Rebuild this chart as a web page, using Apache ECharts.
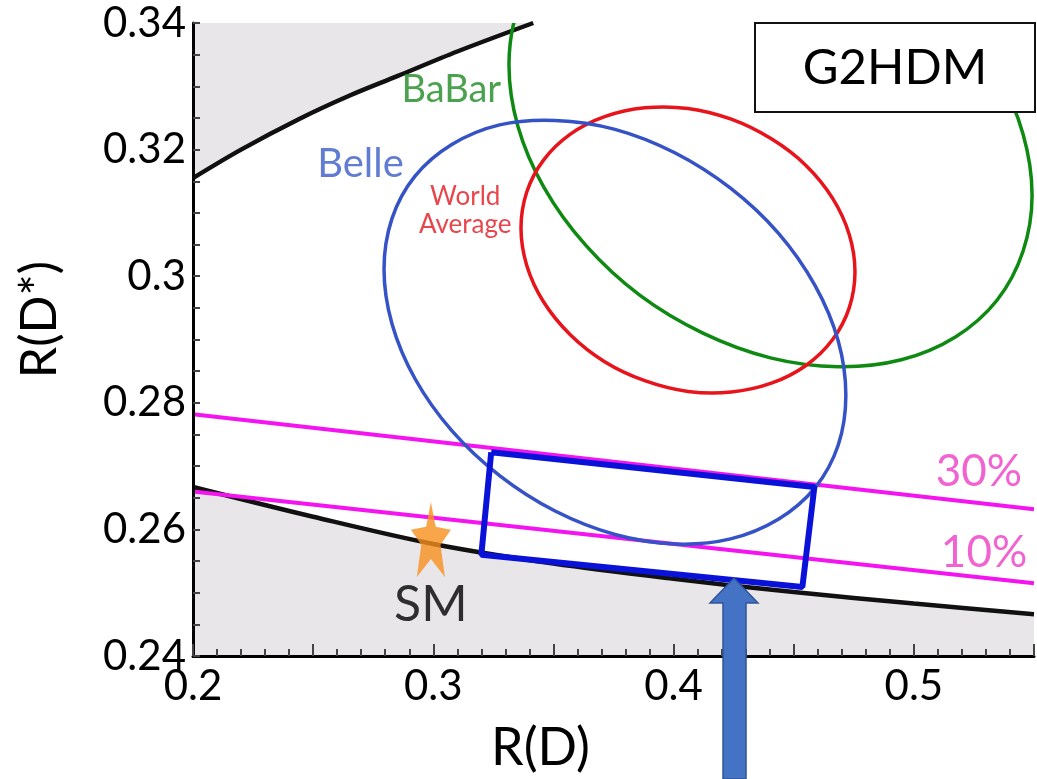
<!DOCTYPE html>
<html>
<head>
<meta charset="utf-8">
<script src="https://cdn.jsdelivr.net/npm/echarts@6/dist/echarts.min.js"></script>
<style>
html,body{margin:0;padding:0;background:#fff;}
#chart{width:1037px;height:779px;}
</style>
</head>
<body>
<div id="chart"></div>
<script>
// ---------- data (R(D), R(D*)) ----------
const upperBoundary = [[0.2,0.3155],[0.22,0.3200],[0.244,0.3248],[0.265,0.3285],[0.285,0.3316],[0.31,0.3355],[0.3416,0.34]];
const lowerBoundary = [[0.2,0.2667],[0.25,0.2620],[0.3,0.2577],[0.35,0.2546],[0.4,0.2522],[0.45,0.2501],[0.5,0.2483],[0.55,0.2466]];
const line30 = [[0.2,0.2782],[0.55,0.2632]];
const line10 = [[0.2,0.2660],[0.55,0.2515]];
const belle = [[0.4717,0.2812],[0.4685,0.2733],[0.4589,0.2666],[0.4436,0.2616],[0.4237,0.2585],[0.4005,0.2577],[0.3756,0.2592],[0.3507,0.2629],[0.3276,0.2685],[0.3077,0.2756],[0.2924,0.2838],[0.2828,0.2925],[0.2795,0.3011],[0.2828,0.3091],[0.2924,0.3158],[0.3077,0.3208],[0.3276,0.3239],[0.3507,0.3246],[0.3756,0.3232],[0.4005,0.3195],[0.4237,0.3139],[0.4436,0.3068],[0.4589,0.2985],[0.4685,0.2898]];
const worldAverage = [[0.4755,0.3007],[0.4731,0.2950],[0.4662,0.2900],[0.4551,0.2859],[0.4407,0.2831],[0.4240,0.2817],[0.4060,0.2818],[0.3880,0.2835],[0.3713,0.2865],[0.3569,0.2908],[0.3458,0.2960],[0.3389,0.3017],[0.3365,0.3076],[0.3389,0.3133],[0.3458,0.3183],[0.3569,0.3224],[0.3713,0.3252],[0.3880,0.3266],[0.4060,0.3265],[0.4240,0.3248],[0.4407,0.3217],[0.4551,0.3175],[0.4662,0.3123],[0.4731,0.3066]];
const babar = [[0.5492,0.3128],[0.5454,0.3039],[0.5346,0.2962],[0.5173,0.2904],[0.4948,0.2868],[0.4685,0.2857],[0.4403,0.2871],[0.4122,0.2910],[0.3859,0.2970],[0.3634,0.3049],[0.3461,0.3140],[0.3352,0.3237],[0.3315,0.3334],[0.3352,0.3423],[0.3461,0.3500],[0.3634,0.3558],[0.3859,0.3594],[0.4122,0.3605],[0.4403,0.3591],[0.4685,0.3552],[0.4948,0.3492],[0.5173,0.3413],[0.5346,0.3322],[0.5454,0.3225]];
const benchmarkBox = [[0.3241,0.2722],[0.4586,0.2667],[0.4536,0.2509],[0.3200,0.2560],[0.3241,0.2722]];
const smPoint = [[0.299,0.2584]];
const labelTexts = ['BaBar','Belle','World\nAverage','30%','10%'];
const labelX = [0.3075,0.2697,0.3133,0.5271,0.5292];
const labelY = [0.3294,0.3177,0.3103,0.2691,0.2563];
const smLabel = 'SM';
const xName = 'R(D)';
const yName = 'R(D*)';
const boxTitle = 'G2HDM';

// ---------- chart ----------
const FONT = 'Lato, "Open Sans", sans-serif';
const chart = echarts.init(document.getElementById('chart'), null, {renderer:'canvas'});
const GRAY = '#E8E6E9';
const labelColors = ['#1E8B22','#3A5BC7','#E3171E','#EC3CC4','#EC3CC4'];
const labelSizes = [38,40,26,44,44];
const starPath = 'path://M50 0 L62 33 L100 37 L74 57 L85 100 L50 76 L15 100 L26 57 L0 37 L38 33 Z';

const textData = labelTexts.map((t,i)=>({
  value:[labelX[i],labelY[i]],
  label:{show:true,formatter:t,position:'inside',color:labelColors[i],fontSize:labelSizes[i],fontFamily:FONT,lineHeight:labelSizes[i]+2,align:'center',verticalAlign:'middle'}
}));

function lineSeries(data,color,width,smooth,z){
  return {type:'line',data:data,showSymbol:false,symbol:'none',smooth:smooth,
    lineStyle:{color:color,width:width},z:z,silent:true,clip:true,animation:false};
}
// closed smooth contour through the read points, mapped with the axes' scales
function contourSeries(data,color,z){
  return {type:'custom',data:data,z:z,silent:true,clip:true,animation:false,
    encode:{x:0,y:1},
    renderItem:function(params,api){
      if(params.dataIndex!==0) return null;
      const pts=data.map(p=>api.coord(p));
      const cs=params.coordSys;
      return {type:'group',
        clipPath:{type:'rect',shape:{x:cs.x,y:cs.y,width:cs.width,height:cs.height}},
        children:[{type:'polygon',shape:{points:pts,smooth:0.33},
          style:{fill:'none',stroke:color,lineWidth:3.5}}]};
    }};
}

const option = {
  animation:false,
  backgroundColor:'#ffffff',
  grid:{left:193,right:3,top:23,bottom:123,containLabel:false},
  xAxis:{
    type:'value',min:0.2,max:0.55,interval:0.05,z:10,
    name:xName,nameLocation:'middle',nameGap:66,
    nameTextStyle:{fontSize:52,color:'#000',fontFamily:FONT,padding:[0,146,0,0]},
    axisLine:{show:true,onZero:false,lineStyle:{color:'#000',width:3}},
    axisTick:{show:true,inside:true,length:12,lineStyle:{color:'#444',width:2}},
    minorTick:{show:true,splitNumber:5,length:7,lineStyle:{color:'#444',width:2}},
    splitLine:{show:false},minorSplitLine:{show:false},
    axisLabel:{color:'#000',fontSize:42,fontFamily:FONT,margin:9,
      formatter:function(v){const t=v*10;return Math.abs(t-Math.round(t))<1e-6?String(Math.round(t)/10):'';}}
  },
  yAxis:{
    type:'value',min:0.24,max:0.34,interval:0.02,z:10,
    name:yName,nameLocation:'middle',nameGap:128,nameRotate:90,
    nameTextStyle:{fontSize:50,color:'#000',fontFamily:FONT,padding:[0,0,0,40]},
    axisLine:{show:true,onZero:false,lineStyle:{color:'#000',width:3}},
    axisTick:{show:true,inside:true,length:7,lineStyle:{color:'#444',width:2}},
    minorTick:{show:true,splitNumber:4,length:7,lineStyle:{color:'#444',width:2}},
    splitLine:{show:false},minorSplitLine:{show:false},
    axisLabel:{color:'#000',fontSize:42,fontFamily:FONT,margin:7}
  },
  series:[
    Object.assign(lineSeries(lowerBoundary,'#111',4.5,0.33,3),{areaStyle:{color:GRAY,opacity:1,origin:'start'}}),
    Object.assign(lineSeries(upperBoundary,'#111',4.5,0.33,3),{areaStyle:{color:GRAY,opacity:1,origin:'end'}}),
    lineSeries(line30,'#F414F0',4,false,4),
    lineSeries(line10,'#F414F0',4,false,4),
    contourSeries(babar,'#0E8A12',5),
    contourSeries(worldAverage,'#E8141B',5),
    contourSeries(belle,'#3552C6',5),
    lineSeries(benchmarkBox,'#0A12DA',6,false,6),
    {type:'scatter',data:smPoint,symbol:starPath,symbolSize:[40,75],z:7,silent:true,
      itemStyle:{color:'#F7901E'},
      label:{show:true,formatter:smLabel,position:'bottom',distance:3,color:'#000',fontSize:50,fontFamily:FONT}},
    {type:'scatter',data:textData,symbolSize:0,z:8,silent:true}
  ],
  graphic:[
    {type:'rect',z:100,shape:{x:755,y:23,width:280,height:89},style:{fill:'#fff',stroke:'#111',lineWidth:2}},
    {type:'text',z:101,x:895,y:68,style:{text:boxTitle,fontSize:49,fontFamily:FONT,fill:'#000',align:'center',verticalAlign:'middle'}},
    {type:'polygon',z:100,shape:{points:[[723,779],[723,603],[710,603],[734,578],[758,603],[746,603],[746,779]]},
      style:{fill:'#4472C4',stroke:'#2F5597',lineWidth:1.5}}
  ]
};
chart.setOption(option);
</script>
</body>
</html>
